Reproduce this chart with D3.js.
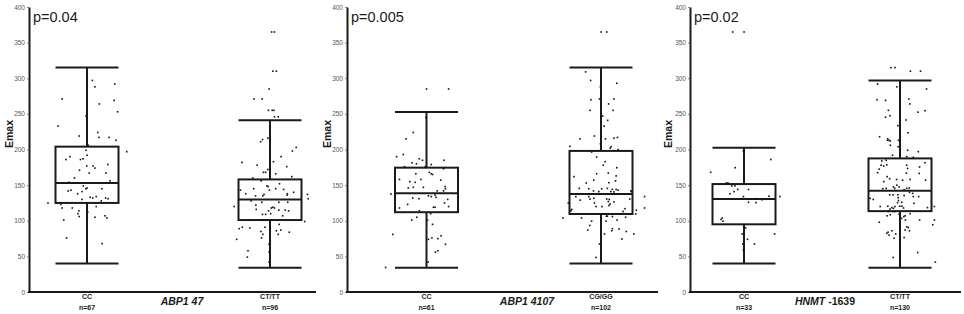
<!DOCTYPE html>
<html>
<head>
<meta charset="utf-8">
<script src="https://cdn.jsdelivr.net/npm/d3@7/dist/d3.min.js"></script>
<style>
  body { margin: 0; background: #fff; }
  svg { display: block; font-family: "Liberation Sans", Arial, sans-serif; }
</style>
</head>
<body>
<div id="root"></div>
<script>
// ---- data ----
const geneNames = [["ABP1", " 47"], ["ABP1", " 4107"], ["HNMT", " -1639"]];
const pValues = ["p=0.04", "p=0.005", "p=0.02"];
const groupLabels = [["CC", "CT/TT"], ["CC", "CG/GG"], ["CC", "CT/TT"]];
const groupN = [[67, 96], [61, 102], [33, 130]];
const yTicks = [0, 50, 100, 150, 200, 250, 300, 350, 400];

// whisker low, Q1, median, Q3, whisker high
const boxStats = [
  [[40, 125, 153, 204, 315], [34, 101, 130, 158, 241]],
  [[34, 112, 138.5, 174.5, 252.5], [40, 109.5, 137.5, 198, 315]],
  [[40, 95, 130.5, 151.5, 202.5], [34, 113.5, 142, 187.5, 297]]
];

// points: [Emax, jitter as fraction of half box width]
const abp47CC = [[297,0.17],[292,0.88],[288,0.25],[271,-0.79],[264,0.39],[269,0.86],[253,0.97],[247,-0.03],
  [233,-0.92],[219,-0.25],[224,0.34],[217,0.38],[217,0.7],[213,0.92],[206,0.04],[197,1.26],[199,-0.03],
  [192,0],[190,-0.54],[186,-0.67],[186,-0.21],[187,-0.13],[179,0.66],[177,-0.01],[177,0.19],[174,0.25],
  [171,-0.24],[167,0.07],[167,0.6],[156,0.73],[154,-0.57],[149,-0.12],[146,0],[145,-0.04],[145,0.47],
  [142,-0.6],[143,-0.51],[141,-0.16],[133,0.1],[132,0.18],[134,0.29],[132,0.59],[131,0.67],[130,-0.16],
  [125,-1.24],[123,-0.83],[118,-0.79],[118,-0.47],[114,-0.26],[120,0.29],[110,-0.29],[106,-0.25],[112,0.02],
  [105,0.25],[107,0.57],[104,0.63],[101,-0.74],[76,-0.65],[68,0.48],[138,-0.3],[128,0.45],[160,-0.4]];
const abp47CT = [[365,0.05],[365,0.14],[310,0.09],[310,0.2],[285,-0.03],[271,-0.51],[271,-0.25],[255,-0.05],
  [255,0.07],[255,0.125],[246,0.14],[246,0.26],[216,-0.07],[214,-0.24],[211,-0.3],[203,0.83],[198,0.71],
  [190,0.35],[182,-0.89],[178,-0.41],[183,0.11],[176,0.53],[172,-0.07],[168,-0.21],[168,-0.14],[166,0.18],
  [162,0.69],[156,-0.28],[149,-0.1],[148,-0.06],[145,-0.52],[145,0.18],[144,0.43],[143,-0.94],[143,-0.02],
  [138,-0.77],[137,-0.19],[138,0.55],[136,0.54],[137,1.19],[135,-0.46],[135,-0.23],[131,1.21],[126,-0.26],
  [126,0.28],[126,0.56],[120,-1.14],[119,0.09],[118,0.04],[118,0.14],[116,-0.44],[115,0.28],[114,-0.05],
  [115,0.48],[114,0.59],[110,0.02],[109,-0.24],[109,-0.14],[101,-0.64],[101,-0.29],[101,-0.21],[101,0.01],
  [99,1.1],[95,0.29],[91,-0.88],[89,-0.98],[90,-0.64],[91,-0.16],[87,0.34],[86,0.2],[85,-0.29],[81,-0.23],
  [84,0.61],[81,0.26],[76,-0.27],[74,-1.06],[67,-0.03],[56,-0.03],[58,-0.7],[49,-0.72],[42,-0.03],
  [152,0.3],[128,-0.6],[140,0.75],[122,-0.45],[107,0.4],[160,-0.55]];
const abp4107CC = [[285,0],[285,0.7],[245,-0.02],[224,-0.42],[215,-0.65],[190,-0.95],[193,-0.74],[187,-0.23],
  [185,-0.13],[181.5,-0.46],[180,-0.32],[179,0.15],[185,0.55],[176,-0.7],[176,-0.04],[168,0.09],[166,0.15],
  [165,0.19],[166,-0.34],[173,0.54],[158,-0.86],[158,-0.18],[157,0.45],[155,-0.53],[154,-0.36],[148,0.59],
  [145,0.6],[147,-0.1],[147,-0.42],[146,-0.58],[142,0.34],[142,0.54],[137.5,-1.13],[135,0.06],[134,0.15],
  [136,0.27],[133,0.3],[132,-0.44],[131,-0.24],[130,0.67],[125,0.57],[123,-0.6],[120,0.7],[119,0.22],
  [119,0.27],[118,-0.86],[114,-0.23],[110,0.13],[105,-0.31],[101,-0.47],[101,0.03],[95,0.19],[81,-1.07],
  [79,0.46],[75,0.36],[74,0.06],[76,0.17],[67,0.6],[58,0.36],[56,0.28],[42,0.05],[34.5,-1.3]];
const abp4107CG = [[365,0],[365,0.18],[309,-0.49],[297,-0.33],[293,0.5],[288,-0.02],[270,-0.32],[271,-0.05],
  [271,0.41],[255,-0.35],[255,0.38],[264,0.24],[247,0.05],[241,0.21],[233,0.1],[219,-0.21],[215,-0.67],
  [215,0.14],[216,0.41],[217,0.52],[204.5,-0.99],[208,-0.02],[202,0.29],[204,0.32],[200,0.54],[196.5,-0.3],
  [189.5,-0.14],[183,0.13],[178,0.07],[174.5,0.5],[166,-0.14],[167,0.23],[162,-0.86],[163,0.48],[156,0.46],
  [157,-0.23],[153,-0.47],[153.5,0.25],[145.5,-0.69],[145,-0.39],[145,0.02],[145.5,0.2],[144,0.36],
  [144,0.48],[140.5,0.41],[143,0.54],[142,-0.24],[141,-0.07],[141,0.31],[142,0.95],[141,0.96],[134,-0.8],
  [129,-0.66],[134,-0.39],[130.5,-0.35],[131.5,-0.23],[130.5,0.18],[130,0.26],[126.5,0.41],[127,0.23],
  [125,-0.21],[123.5,0.29],[130.5,0.91],[134,1.38],[125,-1.04],[118,1.38],[120,-0.16],[120,0.03],[121.5,0.25],
  [117,0.76],[113,0.7],[115,1.12],[116,-0.93],[114,-0.96],[109.5,0.05],[106.5,0.17],[106.5,0.2],[106,0.36],
  [101,0.51],[105,0.78],[109.5,1.1],[104,-1.21],[104,-0.62],[99.5,-0.3],[93.5,-0.36],[87,-0.42],[99.5,0.16],
  [89,0.36],[86,0.34],[88.5,0.57],[85,0.8],[81.5,1.04],[81.5,0.11],[74.5,0.66],[67.5,-0.05],[48.5,-0.16]];
const hnmtCC = [[365,-0.36],[365,0],[186,0.85],[174.5,-0.28],[168,-1.06],[153,-0.56],[153,-0.51],[149,-0.39],
  [149,-0.29],[144,-0.2],[144,0.14],[141,-0.32],[134,-0.02],[134.5,0.79],[134,1.14],[129.5,0.57],[126,0.14],
  [125.5,0.38],[104,-0.69],[102,-0.73],[99.5,-0.67],[90,0.05],[81.5,-0.06],[81.5,0.97],[74,0.11],[67.5,-0.04],
  [67.5,0.33],[198,-0.02],[59,-0.02],[131,0.4],[138,-0.45]];
const hnmtCT = [[315,-0.29],[315,-0.16],[310,0.33],[310,0.65],[292,-0.71],[288,-0.1],[285,0.84],[270,-0.73],
  [269,-0.46],[271,0.28],[264,0.31],[255,-0.37],[247.5,-0.32],[245.5,-0.46],[252.5,0.57],[254.5,0.79],
  [241.5,0.19],[233.5,-0.07],[223.5,0.25],[218,-0.65],[215,-0.39],[213,-0.35],[212,-0.31],[213,-0.4],
  [213,-0.05],[206,-0.31],[204,-0.06],[199,0.24],[197,0.58],[192,-0.24],[190,0.21],[189,0.42],[185,-0.44],
  [184,-0.58],[181.5,0.79],[178,-0.6],[178.5,-0.42],[177,-0.52],[172.5,-0.66],[167.5,-0.71],[178,0.21],
  [173.5,0.24],[175.5,0.62],[167,0.2],[166.5,0.61],[162,-0.41],[159,-0.33],[158,-0.11],[157,0.08],[158,0.32],
  [157,0.81],[155,-0.52],[147.5,-0.21],[147.5,-0.03],[145.5,-0.17],[143.5,0.13],[145.5,0.21],[146,0.29],
  [145,-0.55],[145.5,-0.44],[136.5,-0.33],[136.5,-0.22],[136.5,-0.07],[132.5,-0.06],[135.5,0.13],[138.5,0.4],
  [134,0.42],[134,0.59],[128.5,-0.05],[131.5,-0.95],[130,-0.85],[125.5,-0.08],[124.5,0.44],[120,-0.63],
  [120.5,-0.39],[120,-0.16],[120.5,-0.01],[118,0.11],[120.5,0.06],[118.5,-0.26],[118.5,0.87],[120,1.09],
  [116.5,-0.32],[117.5,-0.21],[113,-0.37],[113,-0.23],[113,-0.16],[109.5,-0.03],[107,0.16],[110,0.32],
  [108.5,-0.31],[107,-0.41],[106,0.12],[98,-0.66],[103.5,0.05],[101,0.17],[101,0.62],[101,1.09],[94.5,1.04],
  [91.5,0.21],[90.5,0.26],[87,0.16],[86,0.3],[86,-0.26],[84,-0.38],[82.5,-0.42],[81.5,-0.14],[80,-0.35],
  [75.5,-0.19],[76.5,0.13],[55.5,0.56],[48.5,-0.22],[42,1.12],[150,-0.1],[126,0.05],[140,0.3]];

const points = [[abp47CC, abp47CT], [abp4107CC, abp4107CG], [hnmtCC, hnmtCT]];

// ---- layout ----
const W = 964, H = 314;
const panels = [
  { x0: 29, x1: 316, centers: [87, 270], geneX: 182, pX: 33, emaxX: 9 },
  { x0: 347, x1: 658, centers: [426.5, 601], geneX: 527, pX: 351, emaxX: 327 },
  { x0: 690, x1: 961, centers: [744, 900], geneX: 825, pX: 694, emaxX: 668 }
];
const halfBox = 31.5;
const ink = "#1a1a1a";

const svg = d3.select("#root").append("svg")
  .attr("width", W)
  .attr("height", H);

const y = d3.scaleLinear().domain([0, 400]).range([292, 7]);

panels.forEach((p, pi) => {
  const g = svg.append("g");

  //x positions of the two groups
  const x = d3.scalePoint()
    .domain(groupLabels[pi].map((_, i) => i))
    .range(p.centers);

  // y axis
  const yAxis = g.append("g")
    .attr("transform", `translate(${p.x0},0)`)
    .call(d3.axisLeft(y).tickValues(yTicks).tickSize(2).tickSizeOuter(0).tickPadding(2));
  yAxis.select(".domain").attr("stroke", ink).attr("stroke-width", 2);
  yAxis.selectAll(".tick line").attr("stroke", "#666").attr("stroke-width", 0.8);
  yAxis.selectAll(".tick text")
    .attr("fill", "#555")
    .style("font-size", "6.5px")
    .style("font-family", "'Liberation Sans', Arial, sans-serif");

  // x axis line
  g.append("line")
    .attr("x1", p.x0 - 1).attr("x2", p.x1)
    .attr("y1", y(0)).attr("y2", y(0))
    .attr("stroke", ink).attr("stroke-width", 2);

  // Emax label
  g.append("text")
    .attr("transform", `translate(${p.emaxX + 3.5},134) rotate(-90)`)
    .attr("text-anchor", "middle")
    .attr("font-weight", "bold")
    .attr("font-size", 10.5)
    .attr("fill", ink)
    .text("Emax");

  // p value
  g.append("text")
    .attr("x", p.pX).attr("y", 22)
    .attr("font-size", 14.5)
    .attr("fill", ink)
    .text(pValues[pi]);

  // boxes
  boxStats[pi].forEach((s, gi) => {
    const cx = x(gi);
    const [lo, q1, med, q3, hi] = s;
    const bg = g.append("g").attr("stroke", ink).attr("stroke-width", 2).attr("fill", "none");
    bg.append("line").attr("x1", cx).attr("x2", cx).attr("y1", y(lo)).attr("y2", y(q1));
    bg.append("line").attr("x1", cx).attr("x2", cx).attr("y1", y(q3)).attr("y2", y(hi));
    [lo, hi].forEach(v => bg.append("line")
      .attr("x1", cx - halfBox).attr("x2", cx + halfBox)
      .attr("y1", y(v)).attr("y2", y(v)));
    bg.append("rect")
      .attr("x", cx - halfBox).attr("width", halfBox * 2)
      .attr("y", y(q3)).attr("height", y(q1) - y(q3));
    bg.append("line")
      .attr("x1", cx - halfBox).attr("x2", cx + halfBox)
      .attr("y1", y(med)).attr("y2", y(med));

    // jittered points
    g.append("g").selectAll("rect")
      .data(points[pi][gi])
      .join("rect")
      .attr("x", d => cx + d[1] * halfBox - 0.75)
      .attr("y", d => y(d[0]) - 0.75)
      .attr("width", 1.6)
      .attr("height", 1.6)
      .attr("fill", "#111");

    // category labels
    g.append("text")
      .attr("x", cx).attr("y", 299)
      .attr("text-anchor", "middle")
      .attr("font-weight", "bold")
      .attr("font-size", 7)
      .attr("fill", ink)
      .text(groupLabels[pi][gi]);
    g.append("text")
      .attr("x", cx).attr("y", 309.5)
      .attr("text-anchor", "middle")
      .attr("font-weight", "bold")
      .attr("font-size", 7)
      .attr("fill", ink)
      .text("n=" + groupN[pi][gi]);
  });

  // gene label
  const gt = g.append("text")
    .attr("x", p.geneX).attr("y", 304.5)
    .attr("text-anchor", "middle")
    .attr("font-weight", "bold")
    .attr("font-size", 10.5)
    .attr("fill", ink);
  gt.append("tspan").attr("font-style", "italic").text(geneNames[pi][0]);
  gt.append("tspan")
    .attr("font-style", pi === 2 ? "normal" : "italic")
    .text(geneNames[pi][1]);
});
</script>
</body>
</html>
